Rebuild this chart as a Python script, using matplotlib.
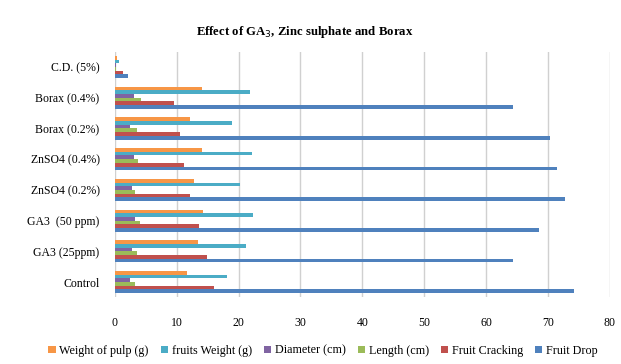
"""Horizontal grouped bar chart: effect of GA3, zinc sulphate and borax."""

import matplotlib.pyplot as plt
import numpy as np

plt.rcParams["font.family"] = ["Liberation Serif", "DejaVu Serif"]

treatments = [
    "Control",
    "GA3 (25ppm)",
    "GA3  (50 ppm)",
    "ZnSO4 (0.2%)",
    "ZnSO4 (0.4%)",
    "Borax (0.2%)",
    "Borax (0.4%)",
    "C.D. (5%)",
]

weight_of_pulp = [11.6, 13.4, 14.2, 12.8, 14.1, 12.2, 14.1, 0.4]
fruits_weight = [18.2, 21.2, 22.3, 20.2, 22.1, 19.0, 21.8, 0.6]
diameter = [2.5, 2.8, 3.3, 2.7, 3.1, 2.5, 3.1, 0.1]
length = [3.2, 3.5, 4.0, 3.2, 3.8, 3.5, 4.2, 0.1]
fruit_cracking = [16.1, 14.9, 13.6, 12.2, 11.1, 10.5, 9.5, 1.3]
fruit_drop = [74.2, 64.4, 68.5, 72.7, 71.4, 70.3, 64.4, 2.1]

series = [
    ("Weight of pulp (g)", weight_of_pulp, "#F79646"),
    ("fruits Weight (g)", fruits_weight, "#4BACC6"),
    ("Diameter (cm)", diameter, "#8064A2"),
    ("Length (cm)", length, "#9BBB59"),
    ("Fruit Cracking", fruit_cracking, "#C0504D"),
    ("Fruit Drop", fruit_drop, "#4F81BD"),
]

fig = plt.figure(figsize=(6.21, 3.64), dpi=100)
ax = fig.add_axes([0.185, 0.183, 0.797, 0.675])

y = np.arange(len(treatments))
bar_h = 0.12
n = len(series)
for i, (name, values, color) in enumerate(series):
    # first series sits on top of each group, last at the bottom
    offset = (n - 1) / 2 * bar_h - i * bar_h
    ax.barh(y + offset, values, height=bar_h, color=color, label=name,
            zorder=3)

ax.set_xlim(0, 80)
ax.set_ylim(-0.5, len(treatments) - 0.5)
ax.set_xticks(np.arange(0, 81, 10))
ax.set_yticks(y)
ax.set_yticklabels(treatments, fontsize=8.5)
ax.tick_params(axis="x", labelsize=8.5, length=0, pad=14)
ax.tick_params(axis="y", length=0, pad=11)
ax.grid(axis="x", color="#d0d0d0", linewidth=1.0, zorder=0)
for spine in ax.spines.values():
    spine.set_visible(False)

fig.text(0.49, 0.905, r"Effect of GA$_3$, Zinc sulphate and Borax",
         ha="center", fontsize=9.2, fontweight="bold")

handles, labels = ax.get_legend_handles_labels()
fig.legend(handles, labels, loc="lower center", bbox_to_anchor=(0.52, -0.01),
           ncol=6, frameon=False, fontsize=8.7, handlelength=0.6,
           handleheight=0.6, handletextpad=0.3, columnspacing=1.0)

fig.savefig("out.png", dpi=100)
